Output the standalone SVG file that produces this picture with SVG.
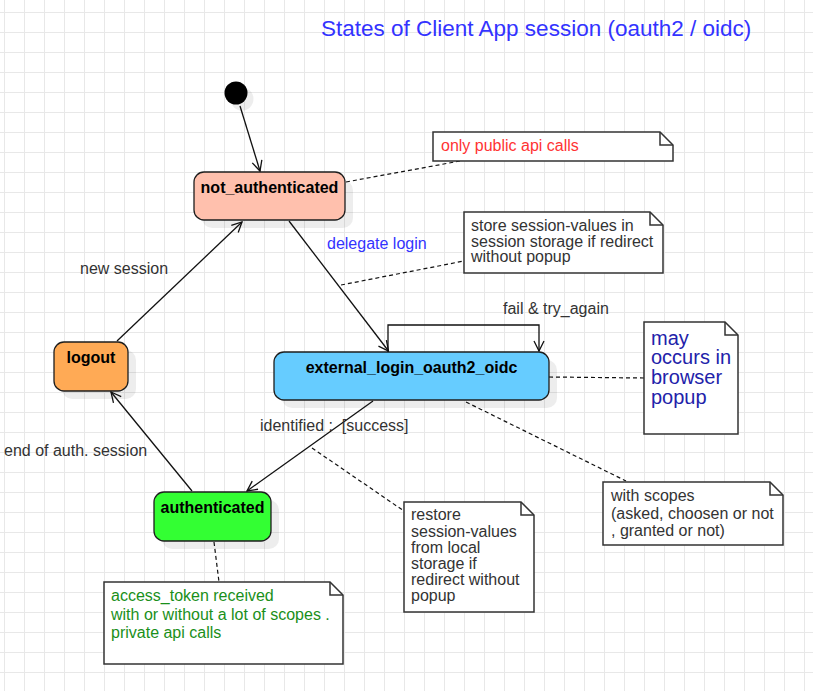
<svg xmlns="http://www.w3.org/2000/svg" width="813" height="691" viewBox="0 0 813 691">
  <style>
    .node { stroke: #1e1e1e; stroke-width: 1.3; }
    .shadow { fill: #000; fill-opacity: 0.07; }
    .ntext { font-family: "Liberation Sans", Arial, sans-serif; font-size: 16px; font-weight: bold; fill: #000; text-anchor: middle; }
    .lbl { font-family: "Liberation Sans", Arial, sans-serif; font-size: 16px; fill: #333; }
    .note { fill: #fff; stroke: #333; stroke-width: 1.5; }
    .fold { fill: none; stroke: #333; stroke-width: 1.5; }
    .edge { fill: none; stroke: #111; stroke-width: 1.3; }
    .dash { fill: none; stroke: #111; stroke-width: 1.2; stroke-dasharray: 4 3; }
  </style>
  <defs>
    <pattern id="grid" x="4" y="12" width="20" height="20" patternUnits="userSpaceOnUse">
      <rect x="0" y="0" width="20" height="1" fill="#e8e8e8"/>
      <rect x="0" y="0" width="1" height="20" fill="#e8e8e8"/>
    </pattern>
    <marker id="open" viewBox="-11 -6 12 12" refX="0" refY="0" markerWidth="12" markerHeight="12" markerUnits="userSpaceOnUse" orient="auto">
      <path d="M-10,-5 L0,0 L-10,5" fill="none" stroke="#111" stroke-width="1.3"/>
    </marker>
  </defs>
  <rect width="813" height="691" fill="#fff"/>
  <rect width="813" height="691" fill="url(#grid)"/>

  <text id="title" x="321" y="36" font-family="'Liberation Sans', Arial, sans-serif" font-size="22.5" fill="#3333FF">States of Client App session (oauth2 / oidc)</text>

  <g id="start">
    <circle cx="242" cy="99" r="11.5" class="shadow"/>
    <circle cx="236" cy="93" r="11.5" fill="#000"/>
  </g>

  <g id="not_authenticated">
    <rect x="202" y="180" width="151" height="48" rx="10" class="shadow"/>
    <rect x="194" y="172" width="151" height="48" rx="10" fill="#FFC0AD" class="node"/>
    <text x="269.5" y="193" class="ntext">not_authenticated</text>
  </g>

  <g id="external_login_oauth2_oidc">
    <rect x="282" y="360" width="275" height="48" rx="10" class="shadow"/>
    <rect x="274" y="352" width="275" height="48" rx="10" fill="#66CCFF" class="node"/>
    <text x="411.5" y="373" class="ntext">external_login_oauth2_oidc</text>
  </g>

  <g id="logout">
    <rect x="62" y="350" width="74" height="49" rx="10" class="shadow"/>
    <rect x="54" y="342" width="74" height="49" rx="10" fill="#FFAA55" class="node"/>
    <text x="91" y="362.5" class="ntext">logout</text>
  </g>

  <g id="authenticated">
    <rect x="162" y="500" width="117" height="49" rx="10" class="shadow"/>
    <rect x="154" y="492" width="117" height="49" rx="10" fill="#33FF33" class="node"/>
    <text x="212.5" y="513" class="ntext">authenticated</text>
  </g>

  <g id="connectors">
    <path d="M240,106 L260,171" class="edge" marker-end="url(#open)"/>
    <path d="M289,221 L388.5,351" class="edge" marker-end="url(#open)"/>
    <path d="M388,352 V325 H539 V351" class="edge" marker-end="url(#open)"/>
    <path d="M373,401 L247,491" class="edge" marker-end="url(#open)"/>
    <path d="M192,491 L111,392" class="edge" marker-end="url(#open)"/>
    <path d="M117,341 L242,222" class="edge" marker-end="url(#open)"/>

    <path d="M346,182 L460,161" class="dash"/>
    <path d="M341,285 L464,261" class="dash"/>
    <path d="M549,377 L644,378" class="dash"/>
    <path d="M466,402 L626,481" class="dash"/>
    <path d="M312,448 L404,511" class="dash"/>
    <path d="M214,542 L219,582" class="dash"/>

    <text x="327" y="249" class="lbl" fill="#3333FF" style="fill:#3333FF">delegate login</text>
    <text x="80" y="274" class="lbl">new session</text>
    <text x="503" y="314" class="lbl">fail &amp; try_again</text>
    <text x="260" y="431" class="lbl" xml:space="preserve">identified :  [success]</text>
    <text x="4" y="456" class="lbl">end of auth. session</text>
  </g>

  <g id="note_public">
    <path d="M433,132 H660 L673,145 V161 H433 Z" class="note"/>
    <path d="M660,132 V145 H673" class="fold"/>
    <text x="441" y="151" class="lbl" style="fill:#FF3333">only public api calls</text>
  </g>

  <g id="note_store">
    <path d="M464,212 H650 L663,225 V273 H464 Z" class="note"/>
    <path d="M650,212 V225 H663" class="fold"/>
    <text class="lbl">
      <tspan x="471" y="231">store session-values in</tspan>
      <tspan x="471" y="246.5">session storage if redirect</tspan>
      <tspan x="471" y="262">without popup</tspan>
    </text>
  </g>

  <g id="note_popup">
    <path d="M644,322 H725 L738,335 V434 H644 Z" class="note"/>
    <path d="M725,322 V335 H738" class="fold"/>
    <text font-family="'Liberation Sans', Arial, sans-serif" font-size="20" fill="#2222AA">
      <tspan x="651" y="344.5">may</tspan>
      <tspan x="651" y="364">occurs in</tspan>
      <tspan x="651" y="384">browser</tspan>
      <tspan x="651" y="403.5">popup</tspan>
    </text>
  </g>

  <g id="note_scopes">
    <path d="M603,482 H770 L783,495 V545 H603 Z" class="note"/>
    <path d="M770,482 V495 H783" class="fold"/>
    <text class="lbl">
      <tspan x="611" y="501">with scopes</tspan>
      <tspan x="611" y="519">(asked, choosen or not</tspan>
      <tspan x="611" y="536">, granted or not)</tspan>
    </text>
  </g>

  <g id="note_restore">
    <path d="M404,502 H521 L534,515 V612 H404 Z" class="note"/>
    <path d="M521,502 V515 H534" class="fold"/>
    <text class="lbl">
      <tspan x="411" y="520">restore</tspan>
      <tspan x="411" y="536.5">session-values</tspan>
      <tspan x="411" y="552.5">from local</tspan>
      <tspan x="411" y="569">storage if</tspan>
      <tspan x="411" y="585">redirect without</tspan>
      <tspan x="411" y="601">popup</tspan>
    </text>
  </g>

  <g id="note_access">
    <path d="M104,582 H330 L343,595 V664 H104 Z" class="note"/>
    <path d="M330,582 V595 H343" class="fold"/>
    <text class="lbl" style="fill:#1A8F1A">
      <tspan x="111" y="601">access_token received</tspan>
      <tspan x="111" y="619.5">with or without a lot of scopes .</tspan>
      <tspan x="111" y="637.5">private api calls</tspan>
    </text>
  </g>
</svg>
